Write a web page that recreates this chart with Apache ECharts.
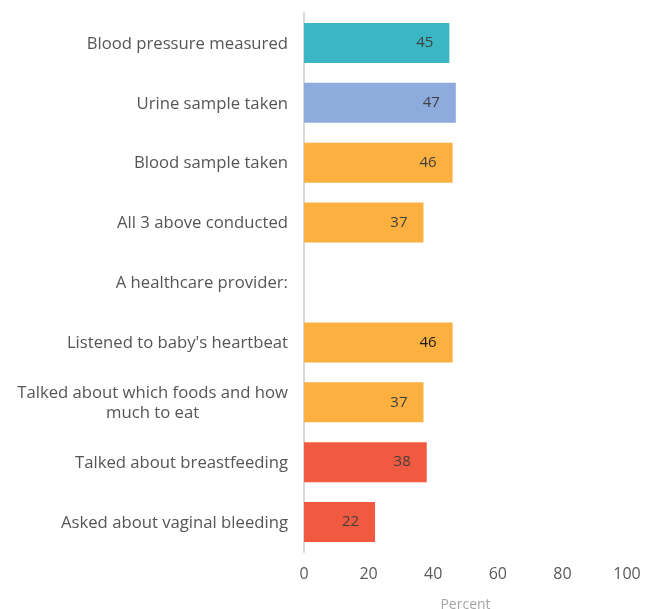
<!DOCTYPE html>
<html>
<head>
<meta charset="utf-8">
<script src="https://cdn.jsdelivr.net/npm/echarts@6/dist/echarts.min.js"></script>
<style>
  html, body { margin: 0; padding: 0; background: #fff; }
  #chart { width: 655px; height: 609px; }
</style>
</head>
<body>
<div id="chart"></div>
<script>
// Prenatal care items, top to bottom
const categories = [
  'Blood pressure measured',
  'Urine sample taken',
  'Blood sample taken',
  'All 3 above conducted',
  'A healthcare provider:',
  "Listened to baby's heartbeat",
  'Talked about which foods and how\nmuch to eat',
  'Talked about breastfeeding',
  'Asked about vaginal bleeding'
];
const values = [45, 47, 46, 37, null, 46, 37, 38, 22];
const barColors = ['#3bb7c4', '#8eabdd', '#fbb040', '#fbb040', '#fbb040', '#fbb040', '#fbb040', '#f15a40', '#f15a40'];
const labelColors = ['#404040', '#404040', '#404040', '#404040', '#404040', '#1a1a1a', '#404040', '#404040', '#404040'];
const xTicks = [0, 20, 40, 60, 80, 100];

const FONT = '"Open Sans", "Liberation Sans", Arial, sans-serif';

const chart = echarts.init(document.getElementById('chart'));
chart.setOption({
  animation: false,
  grid: { left: 304, right: 28, top: 13, bottom: 57, containLabel: false, outerBoundsMode: 'none' },
  xAxis: {
    type: 'value',
    min: xTicks[0],
    max: xTicks[xTicks.length - 1],
    interval: 20,
    axisLine: { show: false },
    axisTick: { show: false },
    splitLine: { show: false },
    axisLabel: { color: '#595959', fontSize: 16, fontFamily: FONT, margin: 14 },
    name: 'Percent',
    nameLocation: 'middle',
    nameGap: 46,
    nameTextStyle: { color: '#a6a6a6', fontSize: 14, fontFamily: FONT }
  },
  yAxis: {
    type: 'category',
    inverse: true,
    data: categories,
    axisLine: { show: true, lineStyle: { color: '#d9d9d9', width: 2 } },
    axisTick: { show: false },
    axisLabel: {
      color: '#555555',
      fontSize: 16.7,
      fontFamily: FONT,
      margin: 16,
      lineHeight: 20,
      formatter: function (v) {
        return v.split('\n').map(function (line) { return '{c|' + line + '}'; }).join('\n');
      },
      rich: {
        c: { align: 'center', color: '#555555', fontSize: 16.7, fontFamily: FONT, lineHeight: 20, padding: [2, 0, 0, 0] }
      }
    }
  },
  series: [{
    type: 'bar',
    barWidth: 40,
    data: values.map(function (v, i) {
      return {
        value: v,
        itemStyle: { color: barColors[i] },
        label: { color: labelColors[i] }
      };
    }),
    label: {
      show: true,
      position: 'insideRight',
      distance: 16,
      fontSize: 15,
      fontFamily: FONT,
      formatter: function (p) { return p.value == null ? '' : p.value; }
    }
  }]
});
</script>
</body>
</html>
